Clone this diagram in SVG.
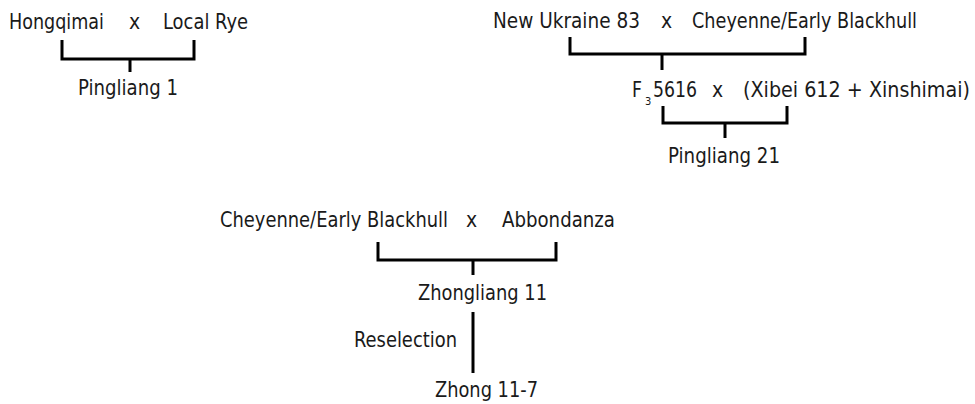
<svg xmlns="http://www.w3.org/2000/svg" width="975" height="404" viewBox="0 0 975 404">
<style>
text{font-family:"Liberation Sans Narrow","DejaVu Sans Condensed","Liberation Sans",sans-serif;font-size:21px;fill:#1a1a1a}
.sub{font-size:11px}
.ln{fill:none;stroke:#000;stroke-width:3}
</style>
<rect width="975" height="404" fill="#fff"/>
<g id="n-hongqimai"><text x="9" y="29" textLength="95" lengthAdjust="spacingAndGlyphs">Hongqimai</text></g>
<g id="x1"><text x="129" y="29">x</text></g>
<g id="n-localrye"><text x="163" y="29" textLength="85" lengthAdjust="spacingAndGlyphs">Local Rye</text></g>
<g id="n-pingliang1"><text x="78" y="95" textLength="100" lengthAdjust="spacingAndGlyphs">Pingliang 1</text></g>

<g id="n-newukraine"><text x="493" y="28" textLength="147" lengthAdjust="spacingAndGlyphs">New Ukraine 83</text></g>
<g id="x2"><text x="661" y="28">x</text></g>
<g id="n-cheyenne1"><text x="692" y="28" textLength="225" lengthAdjust="spacingAndGlyphs">Cheyenne/Early Blackhull</text></g>
<g id="n-f35616"><text x="632" y="97" textLength="10" lengthAdjust="spacingAndGlyphs">F</text><text class="sub" x="645" y="105">3</text><text x="653" y="97" textLength="44" lengthAdjust="spacingAndGlyphs">5616</text></g>
<g id="x3"><text x="712" y="97">x</text></g>
<g id="n-xibei"><text x="743" y="97" textLength="227" lengthAdjust="spacingAndGlyphs">(Xibei 612 + Xinshimai)</text></g>
<g id="n-pingliang21"><text x="668" y="163" textLength="112" lengthAdjust="spacingAndGlyphs">Pingliang 21</text></g>

<g id="n-cheyenne2"><text x="220" y="227" textLength="228" lengthAdjust="spacingAndGlyphs">Cheyenne/Early Blackhull</text></g>
<g id="x4"><text x="466" y="227">x</text></g>
<g id="n-abbondanza"><text x="502" y="227" textLength="113" lengthAdjust="spacingAndGlyphs">Abbondanza</text></g>
<g id="n-zhongliang11"><text x="418" y="300" textLength="129" lengthAdjust="spacingAndGlyphs">Zhongliang 11</text></g>
<g id="n-zhong117"><text x="435" y="397" textLength="103" lengthAdjust="spacingAndGlyphs">Zhong 11-7</text></g>

<g id="connectors">
<path class="ln" d="M62 40V59H194V40M130 59V72"/>
<path class="ln" d="M570 37V54H805V37M662 54V70"/>
<path class="ln" d="M663 106V123H787V106M725 123V138"/>
<path class="ln" d="M378 242V260H556V242M473 260V275"/>
<path class="ln" d="M473 312V373"/>
<text x="354" y="347" textLength="103" lengthAdjust="spacingAndGlyphs">Reselection</text>
</g>
</svg>
